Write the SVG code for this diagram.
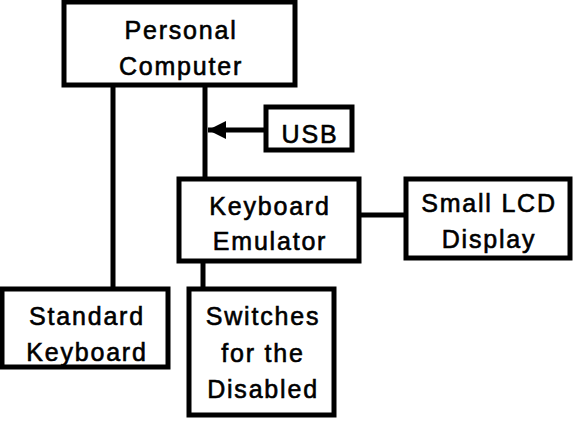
<svg xmlns="http://www.w3.org/2000/svg" width="580" height="423" viewBox="0 0 580 423">
<defs>
<style>
.box{fill:#fff;stroke:#000;stroke-width:5}
.ln{stroke:#000;stroke-width:5;fill:none}
text{font-family:"Liberation Sans",Arial,sans-serif;font-size:25px;fill:#000;stroke:#000;stroke-width:0.6px;text-anchor:middle;letter-spacing:1.8px}
</style>
<marker id="ah" markerUnits="userSpaceOnUse" markerWidth="20" markerHeight="20" refX="18" refY="10" orient="auto">
<path d="M0,1 L18,10 L0,19 Z" fill="#000"/>
</marker>
</defs>
<rect width="580" height="423" fill="#fff"/>
<g id="connectors">
<line class="ln" x1="113" y1="85" x2="113" y2="289"/>
<line class="ln" x1="205" y1="85" x2="205" y2="179"/>
<line class="ln" x1="266" y1="130" x2="208" y2="130" marker-end="url(#ah)"/>
<line class="ln" x1="359" y1="215" x2="406" y2="215"/>
<line class="ln" x1="203" y1="261" x2="203" y2="289"/>
</g>
<g id="pc">
<rect class="box" x="64" y="2" width="231" height="83"/>
<text x="181" y="39">Personal</text>
<text x="181" y="75">Computer</text>
</g>
<g id="usb">
<rect class="box" x="266" y="107" width="86" height="43"/>
<text x="310" y="143">USB</text>
</g>
<g id="emulator">
<rect class="box" x="179" y="179" width="180" height="82"/>
<text x="270" y="215">Keyboard</text>
<text x="270" y="250">Emulator</text>
</g>
<g id="lcd">
<rect class="box" x="406" y="179" width="164" height="79"/>
<text x="489" y="212">Small LCD</text>
<text x="489" y="248">Display</text>
</g>
<g id="stdkb">
<rect class="box" x="2" y="289" width="166" height="78"/>
<text x="87" y="325">Standard</text>
<text x="87" y="361">Keyboard</text>
</g>
<g id="switches">
<rect class="box" x="189" y="289" width="145" height="126"/>
<text x="263" y="325">Switches</text>
<text x="263" y="362">for the</text>
<text x="263" y="398">Disabled</text>
</g>
</svg>
